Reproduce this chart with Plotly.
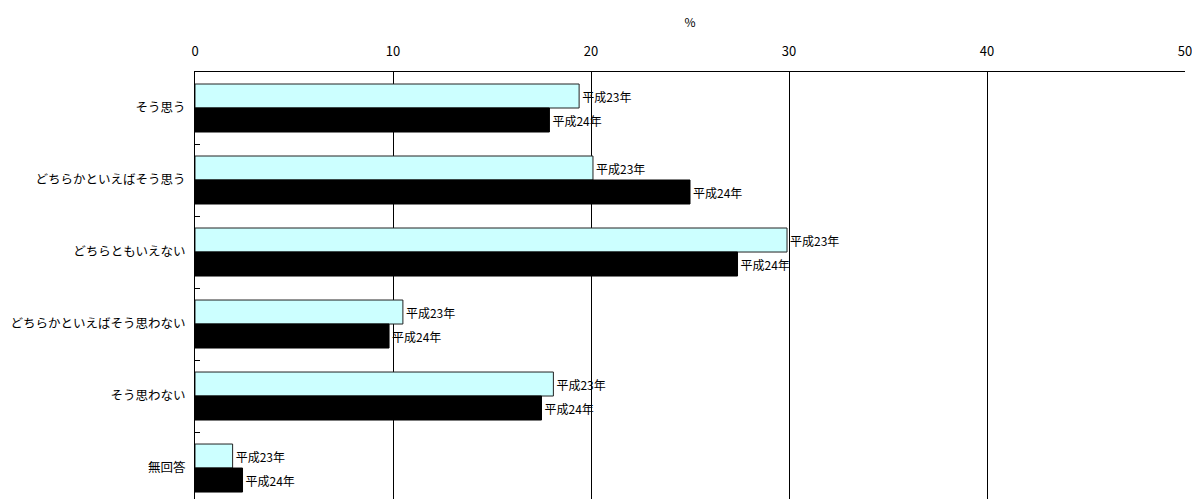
import plotly.graph_objects as go

categories = ["そう思う", "どちらかといえばそう思う", "どちらともいえない",
              "どちらかといえばそう思わない", "そう思わない", "無回答"]
h23 = [19.4, 20.1, 29.9, 10.5, 18.1, 1.9]
h24 = [17.9, 25.0, 27.4, 9.8, 17.5, 2.4]
series_names = ["平成23年", "平成24年"]
x_ticks = [0, 10, 20, 30, 40, 50]

FONT = "Noto Sans CJK JP"

fig = go.Figure()
fig.add_trace(go.Bar(
    y=categories, x=h23, orientation="h", name=series_names[0],
    marker=dict(color="#CCFFFF", line=dict(color="#222222", width=1)),
    text=[series_names[0]] * len(categories), textposition="outside",
    textfont=dict(family=FONT, size=12, color="black"), cliponaxis=False,
))
fig.add_trace(go.Bar(
    y=categories, x=h24, orientation="h", name=series_names[1],
    marker=dict(color="#000000", line=dict(color="#000000", width=1)),
    text=[series_names[1]] * len(categories), textposition="outside",
    textfont=dict(family=FONT, size=12, color="black"), cliponaxis=False,
))

fig.update_layout(
    width=1192, height=499,
    margin=dict(l=195, r=7, t=72, b=0),
    paper_bgcolor="white", plot_bgcolor="white",
    barmode="group", bargap=1/3, bargroupgap=0,
    showlegend=False,
    font=dict(family=FONT, size=12, color="black"),
    xaxis=dict(
        side="top", range=[0, 50], tickvals=x_ticks,
        ticktext=[str(v) for v in x_ticks],
        showgrid=True, gridcolor="black", gridwidth=1,
        showline=True, linecolor="black", linewidth=1,
        ticks="inside", ticklen=5, tickcolor="black",
        zeroline=False,
        tickfont=dict(family=FONT, size=13),
        ticklabelstandoff=10,
        ticklabeloverflow="allow",
        title=dict(text="%", font=dict(family=FONT, size=12), standoff=10),
    ),
    yaxis=dict(
        type="category", range=[5.43, -0.5],
        showline=True, linecolor="black", linewidth=1,
        ticks="inside", ticklen=5, tickcolor="black",
        tickson="boundaries", showgrid=False,
        tickfont=dict(family=FONT, size=12.5),
        ticklabelstandoff=6,
    ),
)

fig.write_html("out.html")
